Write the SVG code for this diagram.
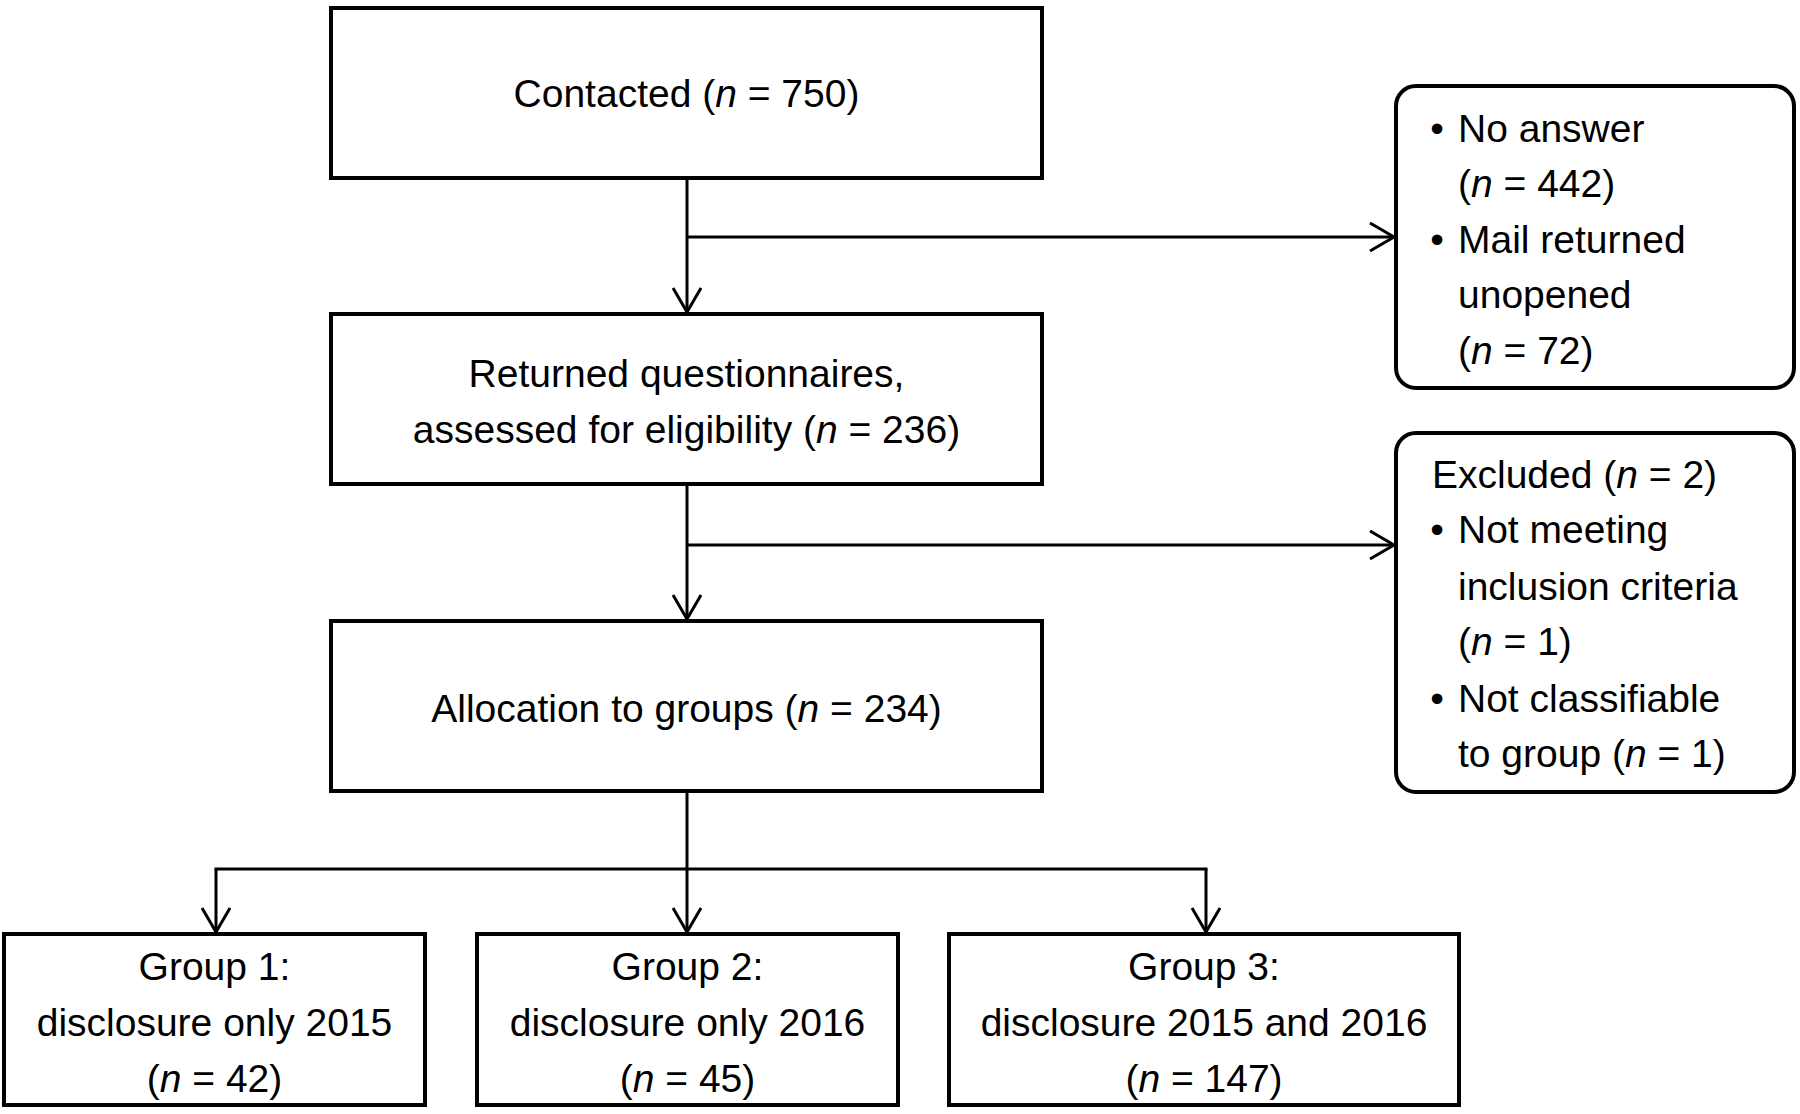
<svg xmlns="http://www.w3.org/2000/svg" width="1800" height="1114" viewBox="0 0 1800 1114">
<style>
.box{fill:#fff;stroke:#000;stroke-width:4}
.conn{fill:none;stroke:#000;stroke-width:3}
text{font-family:"Liberation Sans",Arial,sans-serif;font-size:39px;fill:#000}
.c{text-anchor:middle}
.b{text-anchor:middle}
tspan.i{font-style:italic}
</style>
<defs>
<marker id="arr" markerUnits="userSpaceOnUse" markerWidth="30" markerHeight="34" refX="26" refY="15" orient="auto">
<path d="M2,1 L26,15 L2,29" fill="none" stroke="#000" stroke-width="3"/>
</marker>
</defs>
<rect width="1800" height="1114" fill="#fff"/>
<g id="connectors">
<line class="conn" x1="687" y1="178" x2="687" y2="312" marker-end="url(#arr)"/>
<line class="conn" x1="687" y1="237" x2="1394" y2="237" marker-end="url(#arr)"/>
<line class="conn" x1="687" y1="485" x2="687" y2="619" marker-end="url(#arr)"/>
<line class="conn" x1="687" y1="545" x2="1394" y2="545" marker-end="url(#arr)"/>
<line class="conn" x1="687" y1="792" x2="687" y2="932" marker-end="url(#arr)"/>
<line class="conn" x1="214.5" y1="869" x2="1207.5" y2="869"/>
<line class="conn" x1="216" y1="869" x2="216" y2="932" marker-end="url(#arr)"/>
<line class="conn" x1="1206" y1="869" x2="1206" y2="932" marker-end="url(#arr)"/>
</g>
<g id="contacted">
<rect class="box" x="331" y="8" width="711" height="170"/>
<text class="c" x="686.5" y="107">Contacted (<tspan class="i">n</tspan> = 750)</text>
</g>
<g id="returned">
<rect class="box" x="331" y="314" width="711" height="170"/>
<text class="c" x="686.5" y="387">Returned questionnaires,</text>
<text class="c" x="686.5" y="443">assessed for eligibility (<tspan class="i">n</tspan> = 236)</text>
</g>
<g id="allocation">
<rect class="box" x="331" y="621" width="711" height="170"/>
<text class="c" x="686.5" y="722">Allocation to groups (<tspan class="i">n</tspan> = 234)</text>
</g>
<g id="group1">
<rect class="box" x="4" y="934" width="421" height="171"/>
<text class="c" x="214.5" y="980">Group 1:</text>
<text class="c" x="214.5" y="1036">disclosure only 2015</text>
<text class="c" x="214.5" y="1092">(<tspan class="i">n</tspan> = 42)</text>
</g>
<g id="group2">
<rect class="box" x="477" y="934" width="421" height="171"/>
<text class="c" x="687.5" y="980">Group 2:</text>
<text class="c" x="687.5" y="1036">disclosure only 2016</text>
<text class="c" x="687.5" y="1092">(<tspan class="i">n</tspan> = 45)</text>
</g>
<g id="group3">
<rect class="box" x="949" y="934" width="510" height="171"/>
<text class="c" x="1204" y="980">Group 3:</text>
<text class="c" x="1204" y="1036">disclosure 2015 and 2016</text>
<text class="c" x="1204" y="1092">(<tspan class="i">n</tspan> = 147)</text>
</g>
<g id="lost">
<rect class="box" x="1396" y="86" width="398" height="302" rx="20" ry="20"/>
<text class="b" x="1437" y="142">•</text>
<text x="1458" y="142">No answer</text>
<text x="1458" y="197">(<tspan class="i">n</tspan> = 442)</text>
<text class="b" x="1437" y="253">•</text>
<text x="1458" y="253">Mail returned</text>
<text x="1458" y="308">unopened</text>
<text x="1458" y="364">(<tspan class="i">n</tspan> = 72)</text>
</g>
<g id="excluded">
<rect class="box" x="1396" y="433" width="398" height="359" rx="20" ry="20"/>
<text x="1432" y="488">Excluded (<tspan class="i">n</tspan> = 2)</text>
<text class="b" x="1437" y="543">•</text>
<text x="1458" y="543">Not meeting</text>
<text x="1458" y="600">inclusion criteria</text>
<text x="1458" y="655">(<tspan class="i">n</tspan> = 1)</text>
<text class="b" x="1437" y="712">•</text>
<text x="1458" y="712">Not classifiable</text>
<text x="1458" y="767">to group (<tspan class="i">n</tspan> = 1)</text>
</g>
</svg>
